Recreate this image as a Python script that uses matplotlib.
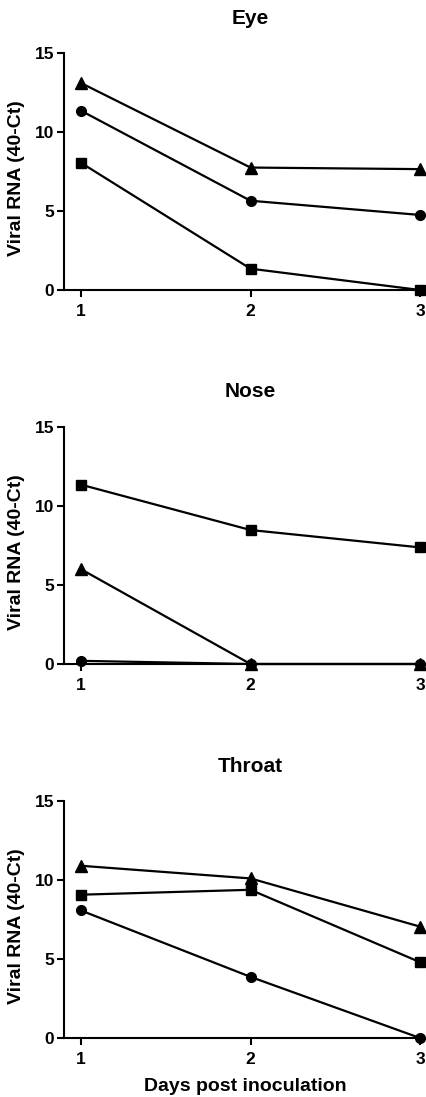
import matplotlib
matplotlib.use("Agg")
import matplotlib.pyplot as plt

plt.rcParams['font.family'] = ['Liberation Sans', 'DejaVu Sans']
plt.rcParams['font.weight'] = 'bold'

days = [1, 2, 3]
tissues = ['Eye', 'Nose', 'Throat']

# viral RNA (40-Ct) per animal, one list per tissue
eye_triangle = [13.1, 7.75, 7.65]
eye_circle = [11.35, 5.65, 4.75]
eye_square = [8.05, 1.35, 0.0]

nose_triangle = [6.0, 0.0, 0.0]
nose_circle = [0.2, 0.0, 0.0]
nose_square = [11.35, 8.48, 7.38]

throat_triangle = [10.9, 10.1, 7.05]
throat_circle = [8.07, 3.87, 0.0]
throat_square = [9.07, 9.38, 4.8]

series = {
    'Eye': [(eye_triangle, '^'), (eye_circle, 'o'), (eye_square, 's')],
    'Nose': [(nose_triangle, '^'), (nose_circle, 'o'), (nose_square, 's')],
    'Throat': [(throat_triangle, '^'), (throat_circle, 'o'), (throat_square, 's')],
}

W, H = 427, 1097
fig = plt.figure(figsize=(W / 100, H / 100), dpi=100)

# pixel rows of the y=15 and y=0 lines for each panel
rows = [(53, 290), (427, 664), (801, 1038)]
left_px = 64
x_lo = 1 - 17 / 169.5
x_hi = 3 + 7 / 169.5

msize = {'^': 8, 'o': 7, 's': 6.5}

for name, (top, bot) in zip(tissues, rows):
    ax = fig.add_axes([left_px / W, 1 - bot / H, (W - left_px) / W, (bot - top) / H])
    for vals, m in series[name]:
        ax.plot(days, vals, color='black', lw=1.6, marker=m, ms=msize[m],
                clip_on=False, zorder=3)
    ax.set_xlim(x_lo, x_hi)
    ax.set_ylim(0, 15)
    ax.set_yticks([0, 5, 10, 15])
    ax.set_xticks(days)
    for s in ['top', 'right']:
        ax.spines[s].set_visible(False)
    for s in ['left', 'bottom']:
        ax.spines[s].set_linewidth(1.5)
    ax.tick_params(direction='out', length=5, width=1.5, labelsize=12.5)
    ax.tick_params(axis='y', pad=2)
    ax.tick_params(axis='x', pad=5)
    ax.set_ylabel('Viral RNA (40-Ct)', fontsize=14, fontweight='bold')
    ax.yaxis.set_label_coords((25 - left_px) / (W - left_px), 0.5 - 7 / (bot - top))
    ax.text(2, 1 + 35 / (bot - top), name, transform=ax.get_xaxis_transform(),
            ha='center', va='center', fontsize=15, fontweight='bold')
    if name == 'Throat':
        ax.set_xlabel('Days post inoculation', fontsize=14, fontweight='bold', labelpad=8)

fig.savefig('out.png', dpi=100)
